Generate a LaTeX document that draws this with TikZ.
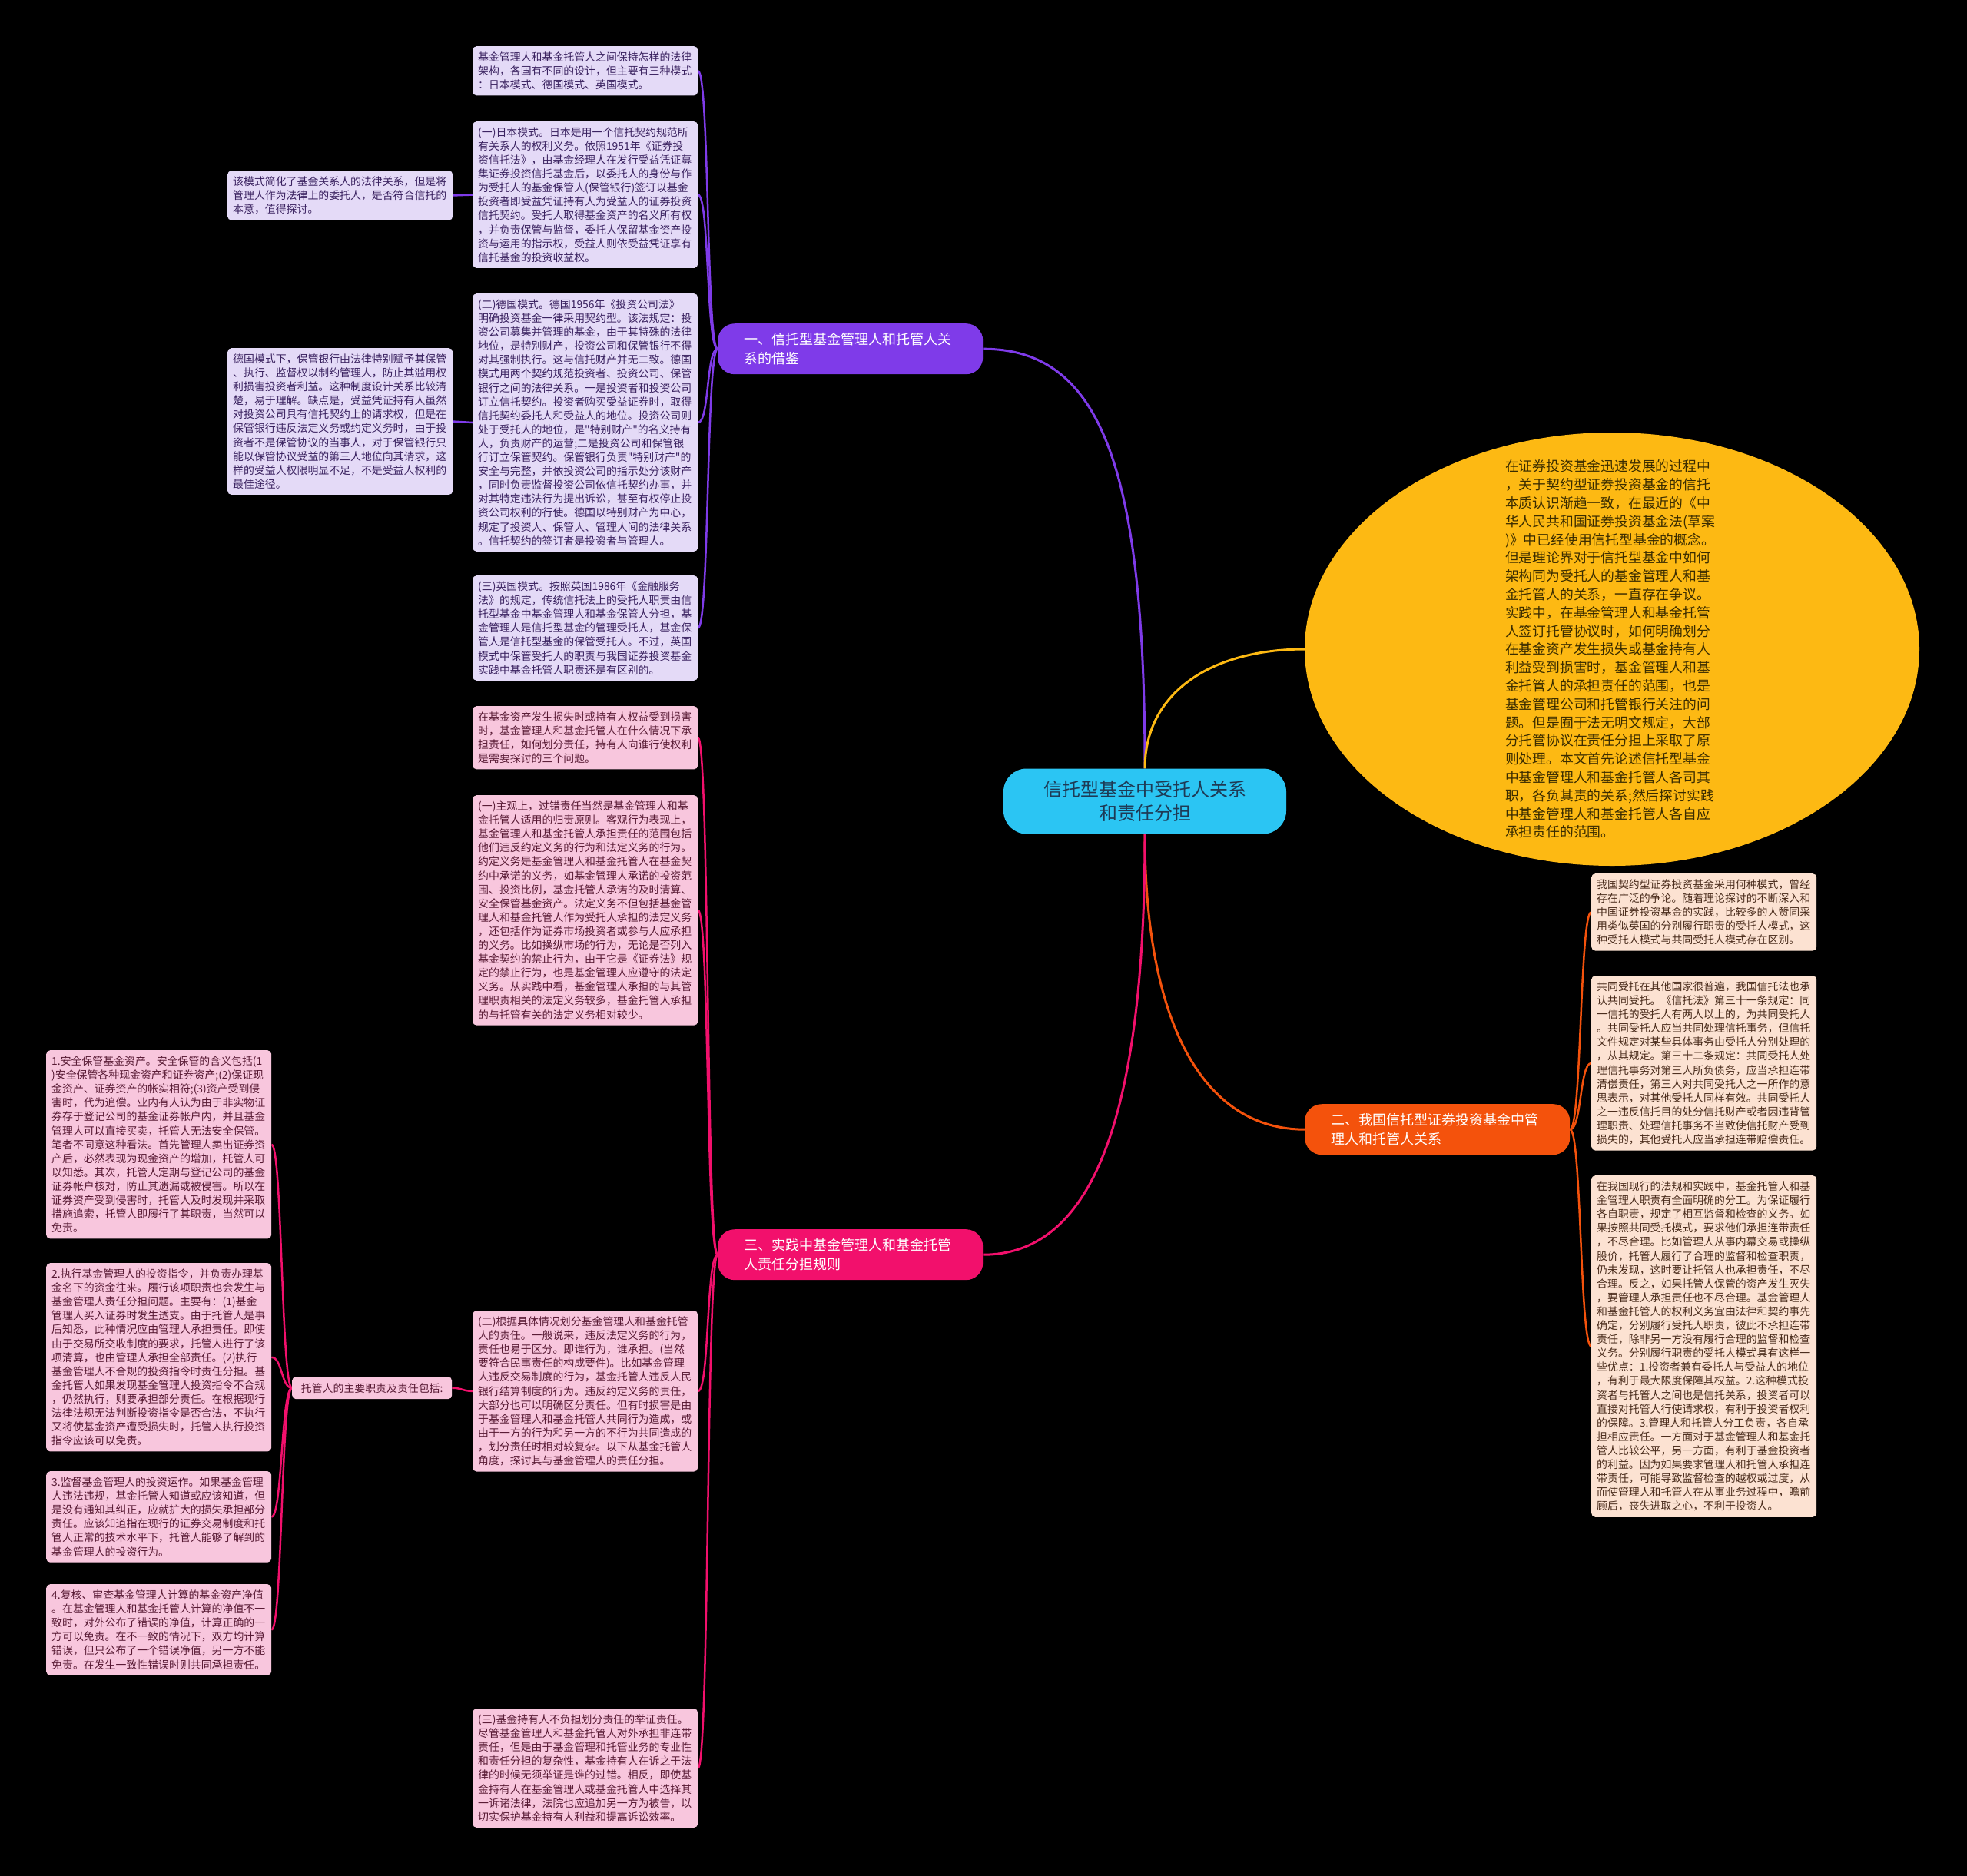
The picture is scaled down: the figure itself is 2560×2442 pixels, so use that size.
\documentclass[tikz,border=0pt]{standalone}
\usepackage{fontspec}
\newfontfamily\cjk{Noto Sans CJK SC}
\usetikzlibrary{shapes.geometric, positioning, backgrounds}

\definecolor{topicblue}{HTML}{2BC5F3}
\definecolor{topictext}{HTML}{1E3A55}
\definecolor{introamber}{HTML}{FDB913}
\definecolor{introtext}{HTML}{3A2C00}
\definecolor{violet1}{HTML}{7F3BE9}
\definecolor{orange1}{HTML}{F4520C}
\definecolor{magenta1}{HTML}{F2106C}
\definecolor{pfill}{HTML}{E4DAF7}
\definecolor{ptext}{HTML}{3A2260}
\definecolor{kfill}{HTML}{F8C6DD}
\definecolor{ktext}{HTML}{581A34}
\definecolor{rfill}{HTML}{FCE2D2}
\definecolor{rtext}{HTML}{4A2C1C}

\begin{document}
\begin{tikzpicture}[x=1pt, y=-1pt,
  box/.style={anchor=north west, rounded corners=5pt, inner xsep=7pt, inner ysep=7.5pt,
              text width=279pt, align=left, font=\cjk\fontsize{13.9pt}{18.1pt}\selectfont},
  pbox/.style={box, fill=pfill, text=ptext},
  kbox/.style={box, fill=kfill, text=ktext},
  rbox/.style={box, fill=rfill, text=rtext},
  branch/.style={anchor=north west, rounded corners=22pt, minimum height=66pt,
                 inner xsep=34pt, text width=277pt, align=left, text=white,
                 font=\cjk\fontsize{18pt}{24.5pt}\selectfont},
  link/.style={line width=2.5pt},
  mainlink/.style={line width=3pt}
]
\useasboundingbox (0,0) rectangle (2560,2442);

% central topic and introduction
\node[fill=topicblue, text=topictext, rounded corners=30pt, minimum width=368pt,
      minimum height=85pt, align=center, font=\cjk\fontsize{24pt}{31pt}\selectfont]
      (topic) at (1490,1043) {信托型基金中受托人关系\\和责任分担};
\node[ellipse, fill=introamber, minimum width=800pt, minimum height=564pt, inner sep=0pt]
      (intro) at (2098,845) {};
\node[text=introtext, text width=278pt, align=left, inner sep=0pt,
      font=\cjk\fontsize{17.8pt}{23.8pt}\selectfont] (introtxt) at (intro.center)
{在证券投资基金迅速发展的过程中\\
，关于契约型证券投资基金的信托\\
本质认识渐趋一致，在最近的《中\\
华人民共和国证券投资基金法(草案\\
)》中已经使用信托型基金的概念。\\
但是理论界对于信托型基金中如何\\
架构同为受托人的基金管理人和基\\
金托管人的关系，一直存在争议。\\
实践中，在基金管理人和基金托管\\
人签订托管协议时，如何明确划分\\
在基金资产发生损失或基金持有人\\
利益受到损害时，基金管理人和基\\
金托管人的承担责任的范围，也是\\
基金管理公司和托管银行关注的问\\
题。但是囿于法无明文规定，大部\\
分托管协议在责任分担上采取了原\\
则处理。本文首先论述信托型基金\\
中基金管理人和基金托管人各司其\\
职，各负其责的关系;然后探讨实践\\
中基金管理人和基金托管人各自应\\
承担责任的范围。};

% branches
\node[branch, fill=violet1] (br1) at (934,421) {一、信托型基金管理人和托管人关\\系的借鉴};
\node[branch, fill=orange1] (br2) at (1698,1437) {二、我国信托型证券投资基金中管\\理人和托管人关系};
\node[branch, fill=magenta1] (br3) at (934,1600) {三、实践中基金管理人和基金托管\\人责任分担规则};

% branch one
\node[pbox] (mode0) at (615,60)
{基金管理人和基金托管人之间保持怎样的法律\\
架构，各国有不同的设计，但主要有三种模式\\
：日本模式、德国模式、英国模式。};
\node[pbox] (japan) at (615,158)
{(一)日本模式。日本是用一个信托契约规范所\\
有关系人的权利义务。依照1951年《证券投\\
资信托法》，由基金经理人在发行受益凭证募\\
集证券投资信托基金后，以委托人的身份与作\\
为受托人的基金保管人(保管银行)签订以基金\\
投资者即受益凭证持有人为受益人的证券投资\\
信托契约。受托人取得基金资产的名义所有权\\
，并负责保管与监督，委托人保留基金资产投\\
资与运用的指示权，受益人则依受益凭证享有\\
信托基金的投资收益权。};
\node[pbox] (germany) at (615,382)
{(二)德国模式。德国1956年《投资公司法》\\
明确投资基金一律采用契约型。该法规定：投\\
资公司募集并管理的基金，由于其特殊的法律\\
地位，是特别财产，投资公司和保管银行不得\\
对其强制执行。这与信托财产并无二致。德国\\
模式用两个契约规范投资者、投资公司、保管\\
银行之间的法律关系。一是投资者和投资公司\\
订立信托契约。投资者购买受益证券时，取得\\
信托契约委托人和受益人的地位。投资公司则\\
处于受托人的地位，是"特别财产"的名义持有\\
人，负责财产的运营;二是投资公司和保管银\\
行订立保管契约。保管银行负责"特别财产"的\\
安全与完整，并依投资公司的指示处分该财产\\
，同时负责监督投资公司依信托契约办事，并\\
对其特定违法行为提出诉讼，甚至有权停止投\\
资公司权利的行使。德国以特别财产为中心，\\
规定了投资人、保管人、管理人间的法律关系\\
。信托契约的签订者是投资者与管理人。};
\node[pbox] (britain) at (615,749)
{(三)英国模式。按照英国1986年《金融服务\\
法》的规定，传统信托法上的受托人职责由信\\
托型基金中基金管理人和基金保管人分担，基\\
金管理人是信托型基金的管理受托人，基金保\\
管人是信托型基金的保管受托人。不过，英国\\
模式中保管受托人的职责与我国证券投资基金\\
实践中基金托管人职责还是有区别的。};
\node[pbox] (japannote) at (296,222)
{该模式简化了基金关系人的法律关系，但是将\\
管理人作为法律上的委托人，是否符合信托的\\
本意，值得探讨。};
\node[pbox] (germannote) at (296,453)
{德国模式下，保管银行由法律特别赋予其保管\\
、执行、监督权以制约管理人，防止其滥用权\\
利损害投资者利益。这种制度设计关系比较清\\
楚，易于理解。缺点是，受益凭证持有人虽然\\
对投资公司具有信托契约上的请求权，但是在\\
保管银行违反法定义务或约定义务时，由于投\\
资者不是保管协议的当事人，对于保管银行只\\
能以保管协议受益的第三人地位向其请求，这\\
样的受益人权限明显不足，不是受益人权利的\\
最佳途径。};

% branch three
\node[kbox] (issue) at (615,919)
{在基金资产发生损失时或持有人权益受到损害\\
时，基金管理人和基金托管人在什么情况下承\\
担责任，如何划分责任，持有人向谁行使权利\\
是需要探讨的三个问题。};
\node[kbox] (fault) at (615,1035)
{(一)主观上，过错责任当然是基金管理人和基\\
金托管人适用的归责原则。客观行为表现上，\\
基金管理人和基金托管人承担责任的范围包括\\
他们违反约定义务的行为和法定义务的行为。\\
约定义务是基金管理人和基金托管人在基金契\\
约中承诺的义务，如基金管理人承诺的投资范\\
围、投资比例，基金托管人承诺的及时清算、\\
安全保管基金资产。法定义务不但包括基金管\\
理人和基金托管人作为受托人承担的法定义务\\
，还包括作为证券市场投资者或参与人应承担\\
的义务。比如操纵市场的行为，无论是否列入\\
基金契约的禁止行为，由于它是《证券法》规\\
定的禁止行为，也是基金管理人应遵守的法定\\
义务。从实践中看，基金管理人承担的与其管\\
理职责相关的法定义务较多，基金托管人承担\\
的与托管有关的法定义务相对较少。};
\node[kbox] (divide) at (615,1706)
{(二)根据具体情况划分基金管理人和基金托管\\
人的责任。一般说来，违反法定义务的行为，\\
责任也易于区分。即谁行为，谁承担。(当然\\
要符合民事责任的构成要件)。比如基金管理\\
人违反交易制度的行为，基金托管人违反人民\\
银行结算制度的行为。违反约定义务的责任，\\
大部分也可以明确区分责任。但有时损害是由\\
于基金管理人和基金托管人共同行为造成，或\\
由于一方的行为和另一方的不行为共同造成的\\
，划分责任时相对较复杂。以下从基金托管人\\
角度，探讨其与基金管理人的责任分担。};
\node[kbox] (proof) at (615,2224)
{(三)基金持有人不负担划分责任的举证责任。\\
尽管基金管理人和基金托管人对外承担非连带\\
责任，但是由于基金管理和托管业务的专业性\\
和责任分担的复杂性，基金持有人在诉之于法\\
律的时候无须举证是谁的过错。相反，即使基\\
金持有人在基金管理人或基金托管人中选择其\\
一诉诸法律，法院也应追加另一方为被告，以\\
切实保护基金持有人利益和提高诉讼效率。};
\node[anchor=north west, fill=kfill, text=ktext, rounded corners=5pt, minimum width=208pt,
      minimum height=29pt, inner xsep=8pt, align=left,
      font=\cjk\fontsize{13.9pt}{18.1pt}\selectfont] (duty) at (380,1792)
      {托管人的主要职责及责任包括:};
\node[kbox] (safe) at (60,1367)
{1.安全保管基金资产。安全保管的含义包括(1\\
)安全保管各种现金资产和证券资产;(2)保证现\\
金资产、证券资产的帐实相符;(3)资产受到侵\\
害时，代为追偿。业内有人认为由于非实物证\\
券存于登记公司的基金证券帐户内，并且基金\\
管理人可以直接买卖，托管人无法安全保管。\\
笔者不同意这种看法。首先管理人卖出证券资\\
产后，必然表现为现金资产的增加，托管人可\\
以知悉。其次，托管人定期与登记公司的基金\\
证券帐户核对，防止其遗漏或被侵害。所以在\\
证券资产受到侵害时，托管人及时发现并采取\\
措施追索，托管人即履行了其职责，当然可以\\
免责。};
\node[kbox] (order) at (60,1644)
{2.执行基金管理人的投资指令，并负责办理基\\
金名下的资金往来。履行该项职责也会发生与\\
基金管理人责任分担问题。主要有：(1)基金\\
管理人买入证券时发生透支。由于托管人是事\\
后知悉，此种情况应由管理人承担责任。即使\\
由于交易所交收制度的要求，托管人进行了该\\
项清算，也由管理人承担全部责任。(2)执行\\
基金管理人不合规的投资指令时责任分担。基\\
金托管人如果发现基金管理人投资指令不合规\\
，仍然执行，则要承担部分责任。在根据现行\\
法律法规无法判断投资指令是否合法，不执行\\
又将使基金资产遭受损失时，托管人执行投资\\
指令应该可以免责。};
\node[kbox] (watch) at (60,1915)
{3.监督基金管理人的投资运作。如果基金管理\\
人违法违规，基金托管人知道或应该知道，但\\
是没有通知其纠正，应就扩大的损失承担部分\\
责任。应该知道指在现行的证券交易制度和托\\
管人正常的技术水平下，托管人能够了解到的\\
基金管理人的投资行为。};
\node[kbox] (check) at (60,2062)
{4.复核、审查基金管理人计算的基金资产净值\\
。在基金管理人和基金托管人计算的净值不一\\
致时，对外公布了错误的净值，计算正确的一\\
方可以免责。在不一致的情况下，双方均计算\\
错误，但只公布了一个错误净值，另一方不能\\
免责。在发生一致性错误时则共同承担责任。};

% branch two
\node[rbox] (debate) at (2071,1137)
{我国契约型证券投资基金采用何种模式，曾经\\
存在广泛的争论。随着理论探讨的不断深入和\\
中国证券投资基金的实践，比较多的人赞同采\\
用类似英国的分别履行职责的受托人模式，这\\
种受托人模式与共同受托人模式存在区别。};
\node[rbox] (joint) at (2071,1270)
{共同受托在其他国家很普遍，我国信托法也承\\
认共同受托。《信托法》第三十一条规定：同\\
一信托的受托人有两人以上的，为共同受托人\\
。共同受托人应当共同处理信托事务，但信托\\
文件规定对某些具体事务由受托人分别处理的\\
，从其规定。第三十二条规定：共同受托人处\\
理信托事务对第三人所负债务，应当承担连带\\
清偿责任，第三人对共同受托人之一所作的意\\
思表示，对其他受托人同样有效。共同受托人\\
之一违反信托目的处分信托财产或者因违背管\\
理职责、处理信托事务不当致使信托财产受到\\
损失的，其他受托人应当承担连带赔偿责任。};
\node[rbox] (separate) at (2071,1530)
{在我国现行的法规和实践中，基金托管人和基\\
金管理人职责有全面明确的分工。为保证履行\\
各自职责，规定了相互监督和检查的义务。如\\
果按照共同受托模式，要求他们承担连带责任\\
，不尽合理。比如管理人从事内幕交易或操纵\\
股价，托管人履行了合理的监督和检查职责，\\
仍未发现，这时要让托管人也承担责任，不尽\\
合理。反之，如果托管人保管的资产发生灭失\\
，要管理人承担责任也不尽合理。基金管理人\\
和基金托管人的权利义务宜由法律和契约事先\\
确定，分别履行受托人职责，彼此不承担连带\\
责任，除非另一方没有履行合理的监督和检查\\
义务。分别履行职责的受托人模式具有这样一\\
些优点：1.投资者兼有委托人与受益人的地位\\
，有利于最大限度保障其权益。2.这种模式投\\
资者与托管人之间也是信托关系，投资者可以\\
直接对托管人行使请求权，有利于投资者权利\\
的保障。3.管理人和托管人分工负责，各自承\\
担相应责任。一方面对于基金管理人和基金托\\
管人比较公平，另一方面，有利于基金投资者\\
的利益。因为如果要求管理人和托管人承担连\\
带责任，可能导致监督检查的越权或过度，从\\
而使管理人和托管人在从事业务过程中，瞻前\\
顾后，丧失进取之心，不利于投资人。};

% connectors behind the nodes
\begin{scope}[on background layer]
\fill[black] (0,0) rectangle (2560,2442);
\draw[mainlink, violet1] (br1.east) .. controls +(150,0) and +(0,-400) .. (topic.north);
\draw[mainlink, introamber] (topic.north) .. controls +(0,-100) and +(-120,0) .. (intro.west);
\draw[mainlink, orange1] (topic.south) .. controls +(0,250) and +(-130,0) .. (br2.west);
\draw[mainlink, magenta1] (topic.south) .. controls +(0,400) and +(130,0) .. (br3.east);
\foreach \kid in {mode0, japan, germany, britain}
  \draw[link, violet1] (br1.west) .. controls +(-15,0) and +(15,0) .. (\kid.east);
\draw[link, violet1] (japan.west) -- (japannote.east);
\draw[link, violet1] (germany.west) -- (germannote.east);
\foreach \kid in {issue, fault, divide, proof}
  \draw[link, magenta1] (br3.west) .. controls +(-15,0) and +(15,0) .. (\kid.east);
\draw[link, magenta1] (divide.west) .. controls +(-12,0) and +(12,0) .. (duty.east);
\foreach \kid in {safe, order, watch, check}
  \draw[link, magenta1] (duty.west) .. controls +(-14,0) and +(14,0) .. (\kid.east);
\foreach \kid in {debate, joint, separate}
  \draw[link, orange1] (br2.east) .. controls +(15,0) and +(-15,0) .. (\kid.west);
\end{scope}
\end{tikzpicture}
\end{document}
